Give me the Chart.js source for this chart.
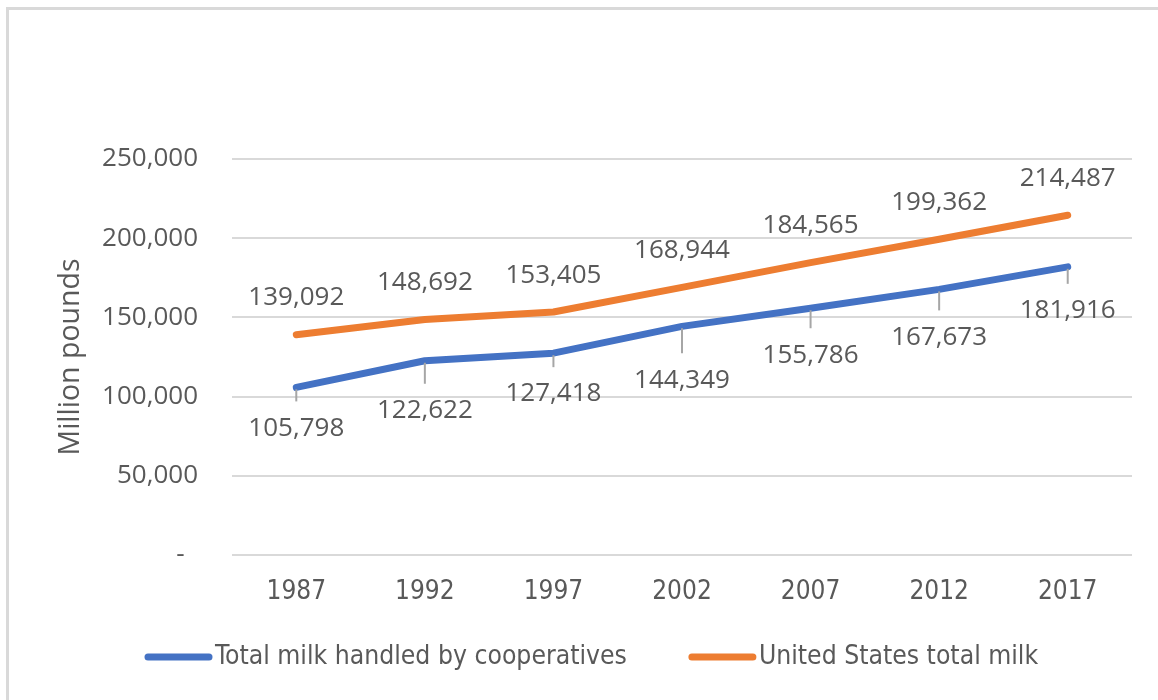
<!DOCTYPE html>
<html><head><meta charset="utf-8">
<script src="https://cdn.jsdelivr.net/npm/chart.js@4/dist/chart.umd.min.js"></script>
<style>
html,body{margin:0;padding:0;background:#fff;}
#wrap{position:relative;width:1158px;height:700px;overflow:hidden;}
#frame{position:absolute;left:6px;top:7px;width:1160px;height:700px;border-top:3px solid #d9d9d9;border-left:3px solid #d9d9d9;}
canvas{position:absolute;left:0;top:0;}
</style></head><body>
<div id="wrap"><div id="frame"></div><canvas id="c" width="1158" height="700"></canvas></div>
<script>
const years = ['1987','1992','1997','2002','2007','2012','2017'];
const coopMilk = [105798,122622,127418,144349,155786,167673,181916];
const usMilk = [139092,148692,153405,168944,184565,199362,214487];
const yTicks = [0,50000,100000,150000,200000,250000];
const seriesNames = ['Total milk handled by cooperatives','United States total milk'];
const axisTitle = 'Million pounds';

const NARROW = "'DejaVu Sans Condensed','Liberation Sans Narrow',sans-serif";
const SANS = "'Open Sans','Noto Sans',sans-serif";
const TXT = '#595959';
// label offsets (px) for data labels: below for coop series, above for US series
const coopLabelDy = [39,48,39,52,45,46,42];
const usLabelDy = 38.5;

const fmt = v => v.toLocaleString('en-US');

const labelsPlugin = {
  id: 'valueLabels',
  afterDatasetsDraw(chart) {
    const ctx = chart.ctx;
    ctx.save();
    const size = 26;
    ctx.font = size + 'px ' + SANS;
    ctx.textAlign = 'center';
    ctx.textBaseline = 'alphabetic';
    chart.data.datasets.forEach((ds, di) => {
      const meta = chart.getDatasetMeta(di);
      meta.data.forEach((pt, i) => {
        const x = pt.x, y = pt.y;
        let cy;
        if (di === 0) {
          cy = y + coopLabelDy[i];
          ctx.strokeStyle = '#a6a6a6';
          ctx.lineWidth = 2;
          ctx.beginPath();
          ctx.moveTo(x, y + 2);
          ctx.lineTo(x, cy - 25);
          ctx.stroke();
        } else {
          cy = y - usLabelDy;
        }
        ctx.fillStyle = TXT;
        ctx.fillText(fmt(ds.data[i]), x, cy + 0.357 * size);
      });
    });
    ctx.restore();
  }
};

const legendPlugin = {
  id: 'customLegend',
  afterDraw(chart) {
    const ctx = chart.ctx;
    ctx.save();
    ctx.font = '26.3px ' + NARROW;
    ctx.textBaseline = 'middle';
    ctx.textAlign = 'left';
    let x = 145;
    const y = 657;
    chart.data.datasets.forEach((ds, di) => {
      ctx.strokeStyle = ds.borderColor;
      ctx.lineWidth = 7;
      ctx.lineCap = 'round';
      ctx.beginPath();
      ctx.moveTo(x + 3, y);
      ctx.lineTo(x + 64, y);
      ctx.stroke();
      ctx.fillStyle = TXT;
      ctx.fillText(ds.label, x + 70, y);
      x += 70 + ctx.measureText(ds.label).width + 62;
    });
    ctx.restore();
  }
};

new Chart(document.getElementById('c'), {
  type: 'line',
  data: {
    labels: years,
    datasets: [
      {label: seriesNames[0], data: coopMilk, borderColor: '#4472C4', backgroundColor: '#4472C4',
       borderWidth: 7, pointRadius: 0, borderCapStyle: 'round', borderJoinStyle: 'round', tension: 0},
      {label: seriesNames[1], data: usMilk, borderColor: '#ED7D31', backgroundColor: '#ED7D31',
       borderWidth: 7, pointRadius: 0, borderCapStyle: 'round', borderJoinStyle: 'round', tension: 0}
    ]
  },
  options: {
    responsive: false,
    animation: false,
    devicePixelRatio: 1,
    layout: {padding: {top: 159, right: 26, bottom: 0, left: 0}},
    plugins: {legend: {display: false}, tooltip: {enabled: false}},
    scales: {
      x: {
        offset: true,
        grid: {display: false, drawTicks: false},
        border: {display: false},
        ticks: {color: TXT, font: {family: NARROW, size: 26}, padding: 22, maxRotation: 0, autoSkip: false},
        afterFit: s => { s.height = 145; }
      },
      y: {
        min: 0, max: 250000,
        afterBuildTicks: s => { s.ticks = yTicks.map(v => ({value: v})); },
        grid: {color: '#d9d9d9', lineWidth: 2, drawTicks: false},
        border: {display: false},
        ticks: {color: TXT, font: {family: SANS, size: 26}, padding: 34,
                callback: v => v === 0 ? '-  ' : fmt(v)},
        title: {display: true, text: axisTitle, color: TXT, font: {family: SANS, size: 28.5}, padding: {top: 54, bottom: 0}},
        afterFit: s => { s.width = 232; }
      }
    }
  },
  plugins: [labelsPlugin, legendPlugin]
});
</script>
</body></html>
